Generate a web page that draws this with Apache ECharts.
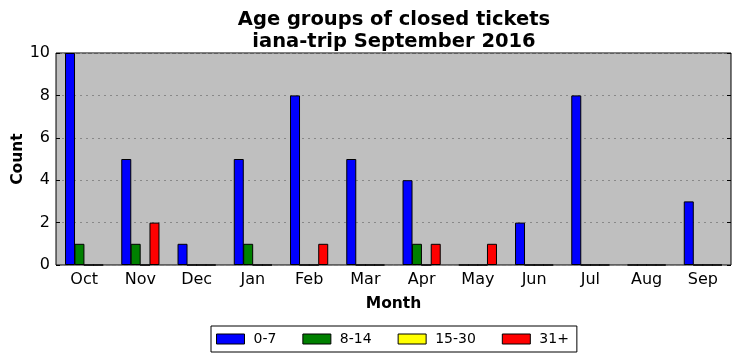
<!DOCTYPE html>
<html><head><meta charset="utf-8">
<script src="https://cdn.jsdelivr.net/npm/echarts@6/dist/echarts.min.js"></script>
<style>html,body{margin:0;padding:0;background:#fff}#c{width:740px;height:361px}</style>
</head><body><div id="c"></div>
<script>
const months = ['Oct','Nov','Dec','Jan','Feb','Mar','Apr','May','Jun','Jul','Aug','Sep'];
const age0_7   = [10,5,1,5,8,5,4,0,2,8,0,3];
const age8_14  = [1,1,0,1,0,0,1,0,0,0,0,0];
const age15_30 = [0,0,0,0,0,0,0,0,0,0,0,0];
const age31    = [0,2,0,0,1,0,1,1,0,0,0,0];
const yTicks = [0,2,4,6,8,10];

const font = 'DejaVu Sans';
const chart = echarts.init(document.getElementById('c'), null, {renderer:'canvas'});
function mk(name, data, color){
  return {name, type:'bar', data, barWidth:10, barGap:'-6%',
    itemStyle:{color, borderColor:'#000', borderWidth:1}, animation:false};
}
chart.setOption({
  animation:false,
  textStyle:{fontFamily:font},
  title:{text:'Age groups of closed tickets\niana-trip September 2016', left:389, textAlign:'center', top:4,
    textStyle:{fontFamily:font, fontSize:19.5, fontWeight:'bold', color:'#000', lineHeight:22}},
  grid:{left:56, right:9, top:53, bottom:96, outerBoundsMode:'none', containLabel:false, show:true, backgroundColor:'#bfbfbf', borderColor:'#000', borderWidth:1},
  legend:{top:326, left:211, orient:'horizontal', icon:'rect', itemWidth:28, itemHeight:10, itemGap:26,
    borderColor:'#000', borderWidth:1, padding:[6,8,6,5], backgroundColor:'#fff',
    textStyle:{fontFamily:font, fontSize:14, color:'#000', padding:[0,0,0,4]},
    itemStyle:{borderColor:'#000', borderWidth:1},
    data:['0-7','8-14','15-30','31+']},
  xAxis:[{type:'category', data:months, name:'Month', nameLocation:'middle', nameGap:31, nameMoveOverlap:false,
    nameTextStyle:{fontFamily:font, fontSize:15.5, fontWeight:'bold', color:'#000'},
    axisLine:{show:false}, axisTick:{inside:true, alignWithLabel:true, length:4, lineStyle:{color:'#000'}},
    axisLabel:{fontFamily:font, fontSize:16, color:'#000', margin:7}, splitLine:{show:false}},
   {type:'category', data:months, position:'top', axisLine:{show:false},
    axisTick:{inside:true, alignWithLabel:true, length:4, lineStyle:{color:'#000'}}, axisLabel:{show:false}}],
  yAxis:[{type:'value', min:0, max:10, interval:2, name:'Count', nameLocation:'middle', nameGap:30, nameMoveOverlap:false,
    nameTextStyle:{fontFamily:font, fontSize:15.5, fontWeight:'bold', color:'#000'},
    axisLine:{show:false}, axisTick:{show:true, inside:true, length:4, lineStyle:{color:'#000'}},
    axisLabel:{fontFamily:font, fontSize:16, color:'#000', margin:6, formatter:v=>yTicks.includes(v)?String(v):''},
    splitLine:{show:true, lineStyle:{color:'#888888', type:[2,4], width:1}}},
   {type:'value', min:0, max:10, interval:2, position:'right', axisLine:{show:false},
    axisTick:{show:true, inside:true, length:4, lineStyle:{color:'#000'}}, axisLabel:{show:false}, splitLine:{show:false}}],
  series:[mk('0-7',age0_7,'#0000ff'), mk('8-14',age8_14,'#008000'), mk('15-30',age15_30,'#ffff00'), mk('31+',age31,'#ff0000')]
});
</script></body></html>
